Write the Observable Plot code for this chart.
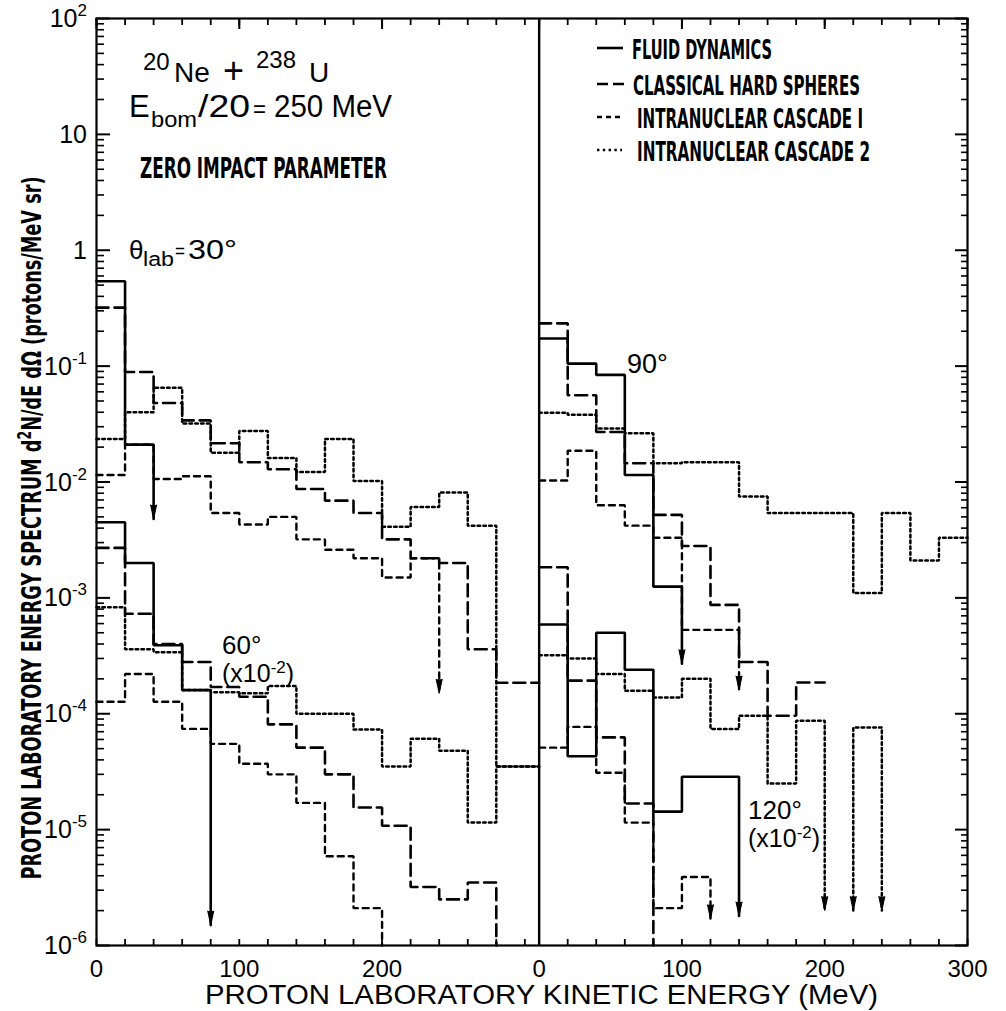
<!DOCTYPE html>
<html>
<head>
<meta charset="utf-8">
<script src="https://cdn.jsdelivr.net/npm/d3@7"></script>
<script src="https://cdn.jsdelivr.net/npm/@observablehq/plot@0.6"></script>
<style>
  html, body { margin: 0; padding: 0; background: #fff; }
  #chart svg { display: block; }
</style>
</head>
<body>
<div id="chart"></div>
<script>
// ---------------- DATA ----------------
const binWidth = 20;                       // MeV per histogram bin
const panelOffset = {left: 0, right: 310}; // right panel drawn after the left one
const panelMax = {left: 310, right: 300};

const modelNames = ["FLUID DYNAMICS", "CLASSICAL HARD SPHERES", "INTRANUCLEAR CASCADE I", "INTRANUCLEAR CASCADE 2"];

// x tick labels (MeV) in each panel, and minor tick step
const xLabelTicks = {left: [0, 100, 200], right: [0, 100, 200, 300]};
const xMinorStep = 20;
// y decades (exponents) labelled on the axis
const yDecades = [-6, -5, -4, -3, -2, -1, 0, 1, 2];

// theta_lab = 30 deg (left panel, upper group)
const fd30   = [0.54, 0.021];
const chs30  = [0.32, 0.089, 0.048, 0.034, 0.0216, 0.0148, 0.0129, 0.0087, 0.0069, 0.0054, 0.0032, 0.0022, 0.0020, 3.6e-4, 1.85e-4];
const inc1_30 = [0.0115, 0.021, 0.0106, 0.0112, 0.0054, 0.0043, 0.0050, 0.0032, 0.0026, 0.0022, 0.0015, 0.0022];
const inc2_30 = [0.0235, 0.040, 0.065, 0.032, 0.0179, 0.0276, 0.0161, 0.0122, 0.0235, 0.0102, 0.0041, 0.0061, 0.0081, 0.0042, 3.5e-5];

// theta_lab = 60 deg (x 10^-2, left panel, lower group)
const fd60   = [4.5e-3, 2.0e-3, 3.9e-4, 1.6e-4];
const chs60  = [2.7e-3, 7.3e-4, 4.0e-4, 2.8e-4, 1.7e-4, 1.4e-4, 8.1e-5, 5.1e-5, 3.0e-5, 1.55e-5, 1.08e-5, 3.2e-6, 2.5e-6, 3.5e-6];
const inc1_60 = [1.27e-4, 2.2e-4, 1.27e-4, 7.4e-5, 5.5e-5, 3.7e-5, 3.0e-5, 1.7e-5, 5.9e-6, 2.1e-6];
const inc2_60 = [8.3e-4, 3.6e-4, 3.4e-4, 1.6e-4, 1.53e-4, 1.5e-4, 1.74e-4, 1.0e-4, 1.0e-4, 7.3e-5, 3.5e-5, 6.1e-5, 4.8e-5, 1.15e-5, 3.5e-5];

// theta_lab = 90 deg (right panel, upper group)
const fd90   = [0.173, 0.105, 0.084, 0.0115, 1.25e-3];
const chs90  = [0.234, 0.056, 0.027, 0.0145, 0.0052, 0.0028, 8.7e-4, 2.8e-4, 9.6e-5, 1.86e-4];
const inc1_90 = [0.0103, 0.0186, 0.0063, 0.0042, 0.0033, 5.3e-4, 5.3e-4];
const inc2_90 = [0.0395, 0.038, 0.029, 0.0263, 0.0145, 0.0148, 0.0148, 0.0075, 0.0054, 0.0054, 0.0054, 0.0011, 0.0054, 0.0021, 0.0033];

// theta_lab = 120 deg (x 10^-2, right panel, lower group)
const fd120   = [5.9e-4, 4.3e-5, 5.0e-4, 2.4e-4, 1.43e-5, 2.86e-5, 2.86e-5];
const chs120  = [1.84e-3, 1.93e-4, 6.25e-5, 1.68e-5];
const inc1_120 = [5.1e-5, 7.7e-5, 3.1e-5, 1.15e-5, 2.1e-6, 3.9e-6];
const inc2_120 = [3.2e-4, 3.0e-4, 2.2e-4, 1.58e-4, 1.38e-4, 2.0e-4, 7.4e-5, 9.6e-5, 2.5e-5, 8.7e-5, null, 7.6e-5];

const seriesList = [
  {id: "fd30", panel: "left", model: 0, values: fd30},
  {id: "chs30", panel: "left", model: 1, values: chs30},
  {id: "inc1_30", panel: "left", model: 2, values: inc1_30},
  {id: "inc2_30", panel: "left", model: 3, values: inc2_30},
  {id: "fd60", panel: "left", model: 0, values: fd60},
  {id: "chs60", panel: "left", model: 1, values: chs60},
  {id: "inc1_60", panel: "left", model: 2, values: inc1_60},
  {id: "inc2_60", panel: "left", model: 3, values: inc2_60},
  {id: "fd90", panel: "right", model: 0, values: fd90},
  {id: "chs90", panel: "right", model: 1, values: chs90},
  {id: "inc1_90", panel: "right", model: 2, values: inc1_90},
  {id: "inc2_90", panel: "right", model: 3, values: inc2_90},
  {id: "fd120", panel: "right", model: 0, values: fd120},
  {id: "chs120", panel: "right", model: 1, values: chs120},
  {id: "inc1_120", panel: "right", model: 2, values: inc1_120},
  {id: "inc2_120", panel: "right", model: 3, values: inc2_120}
];

// arrows (value falls to zero): [series, energy MeV, arrow tip value]
const arrowTips = [
  ["fd30", 40, 4.8e-3], ["inc1_30", 240, 1.5e-4], ["fd60", 80, 1.5e-6],
  ["fd90", 100, 2.7e-4], ["inc1_90", 140, 1.6e-4], ["fd120", 140, 1.8e-6], ["inc1_120", 120, 1.7e-6],
  ["inc2_120", 200, 2.0e-6], ["inc2_120", 220, 2.0e-6], ["inc2_120", 240, 2.0e-6]
];
// plain drops to the bottom axis: [series, energy MeV]
const drops = [["chs60", 280], ["inc1_60", 200], ["chs120", 80]];

// ---------------- BUILD STEP POINTS ----------------
const yBottom = 1e-6, yTop = 100;
const panelOf = Object.fromEntries(seriesList.map(s => [s.id, s.panel]));
const points = [];
for (const s of seriesList) {
  const off = panelOffset[s.panel];
  const tips = new Map(arrowTips.filter(d => d[0] === s.id).map(d => [d[1], d[2]]));
  const dropSet = new Set(drops.filter(d => d[0] === s.id).map(d => d[1]));
  const push = (e, y) => points.push({id: s.id, model: s.model, x: off + e, y});
  const n = s.values.length;
  for (let i = 0; i < n; i++) {
    const v = s.values[i];
    if (v == null) { points.push({id: s.id, model: s.model, x: NaN, y: NaN}); continue; }
    const lo = i * binWidth;
    let hi = (i + 1) * binWidth;
    if (hi >= 300) hi = panelMax[s.panel];
    if (i > 0 && s.values[i - 1] == null && tips.has(lo)) push(lo, tips.get(lo));
    push(lo, v);
    push(hi, v);
    const lastRun = i === n - 1 || s.values[i + 1] == null;
    if (lastRun) {
      if (tips.has(hi)) push(hi, tips.get(hi));
      else if (dropSet.has(hi)) push(hi, yBottom);
    }
  }
}

// ---------------- TICKS ----------------
const majorY = yDecades.map(e => 10 ** e);
const minorY = yDecades.slice(0, -1).flatMap(e => d3.range(2, 10).map(k => k * 10 ** e));
const xMinor = [...d3.range(0, 301, xMinorStep), ...d3.range(0, 301, xMinorStep).map(e => e + panelOffset.right)];
const xMajorAll = [...xLabelTicks.left, ...xLabelTicks.right.map(e => e + panelOffset.right)];

const pLeft = 96, pRight = 967, pTop = 18, pBottom = 945;
const innerW = pRight - pLeft, innerH = pBottom - pTop;

const dashes = [null, "12,6", "6,5", "2.6,3.2"];
const widths = [2.6, 2.6, 2.4, 2.5];
const hasSpike = typeof Plot.spike === "function";

const chart = Plot.plot({
  width: 1006, height: 1011,
  marginTop: pTop, marginBottom: 1011 - pBottom, marginLeft: pLeft, marginRight: 1006 - pRight,
  style: {fontFamily: "'Liberation Sans', Arial, sans-serif", fontSize: "24px", color: "black", background: "white", overflow: "visible"},
  x: {type: "linear", domain: [0, panelOffset.right + panelMax.right],
      ticks: xMajorAll, tickFormat: d => d >= panelOffset.right ? d - panelOffset.right : d,
      tickSize: 0, tickPadding: 14, label: null},
  y: {type: "log", domain: [yBottom, yTop], axis: null},
  marks: [
    Plot.frame({stroke: "black", strokeWidth: 2.2}),
    Plot.ruleX([panelOffset.right], {stroke: "black", strokeWidth: 2.4}),
    // inside ticks
    Plot.ruleY(majorY, {insetRight: innerW - 14, strokeWidth: 2}),
    Plot.ruleY(minorY, {insetRight: innerW - 8, strokeWidth: 1.6}),
    Plot.ruleY(majorY, {insetLeft: innerW - 12, strokeWidth: 2}),
    Plot.ruleY(minorY, {insetLeft: innerW - 6, strokeWidth: 1.6}),
    Plot.ruleX(xMinor, {insetBottom: innerH - 7, strokeWidth: 1.8}),
    Plot.ruleX(xMajorAll, {insetBottom: innerH - 11, strokeWidth: 2}),
    Plot.ruleX(xMinor, {insetTop: innerH - 6, strokeWidth: 1.8}),
    // histograms
    ...[0, 1, 2, 3].map(m => Plot.line(points.filter(p => p.model === m), {
      x: "x", y: "y", z: "id", stroke: "black", strokeWidth: widths[m],
      strokeDasharray: dashes[m], strokeLinejoin: "miter", curve: "linear"
    })),
    // arrow heads
    Plot.vector(arrowTips, {
      x: d => panelOffset[panelOf[d[0]]] + d[1], y: d => d[2],
      rotate: 180, length: 14, anchor: "end", shape: hasSpike ? "spike" : "arrow", r: 3,
      stroke: "black", fill: "black", strokeWidth: 1
    })
  ]
});
document.getElementById("chart").appendChild(chart);

// ---------------- TEXT ----------------
const svg = d3.select(chart);
const ys = chart.scale("y");
const geo = "'Liberation Sans', Arial, sans-serif";
const cond = "'Liberation Sans Narrow', 'DejaVu Sans Condensed', 'Liberation Sans', sans-serif";

function txt(x, y, str, size, opt = {}) {
  const t = svg.append("text").attr("x", x).attr("y", y)
    .attr("font-family", opt.family || geo).attr("font-size", size)
    .attr("font-weight", opt.weight || "normal").attr("fill", "black")
    .attr("text-anchor", opt.anchor || "start")
    .text(str);
  if (opt.len) t.attr("textLength", opt.len).attr("lengthAdjust", "spacingAndGlyphs");
  return t;
}

// y tick labels
for (const e of yDecades) {
  const y = ys.apply(10 ** e) + 9;
  const t = svg.append("text").attr("x", 87).attr("y", y).attr("text-anchor", "end")
    .attr("font-family", geo).attr("font-size", 25).attr("fill", "black");
  if (e === 0) t.text("1");
  else if (e === 1) t.text("10");
  else {
    t.append("tspan").text("10");
    t.append("tspan").attr("dy", -11).attr("font-size", 17).text(e < 0 ? "-" + (-e) : String(e));
  }
}

// axis titles
txt(205, 1004, "PROTON LABORATORY KINETIC ENERGY (MeV)", 27, {len: 673});
{
  const t = svg.append("text").attr("transform", "translate(41,528) rotate(-90)")
    .attr("text-anchor", "middle").attr("font-family", cond).attr("font-weight", "bold")
    .attr("font-size", 27).attr("fill", "black")
    .attr("textLength", 703).attr("lengthAdjust", "spacingAndGlyphs");
  t.append("tspan").text("PROTON LABORATORY ENERGY SPECTRUM d");
  t.append("tspan").attr("dy", -10).attr("font-size", 19).text("2");
  t.append("tspan").attr("dy", 10).text("N/dE dΩ (protons/MeV sr)");
}

// reaction header
txt(143, 70, "20", 24);
txt(174, 82, "Ne", 28);
txt(223, 83, "+", 36);
txt(256, 68, "238", 24);
txt(309, 82, "U", 28);
txt(129, 117, "E", 31);
txt(151, 127, "bom", 22, {len: 46});
txt(198, 117, "/20", 31, {len: 52});
txt(253, 117, "=", 24, {len: 13});
txt(274, 117, "250 MeV", 31, {len: 118});
txt(140, 178, "ZERO IMPACT PARAMETER", 29, {family: cond, weight: "bold", len: 247});
txt(129, 259, "θ", 26);
txt(143, 266, "lab", 20, {len: 31});
txt(175, 258, "=", 20, {len: 10});
txt(188, 259, "30°", 27, {len: 49});

// angle labels
function scaledLabel(x, y, deg) {
  txt(x, y, deg, 26);
  const t = svg.append("text").attr("x", x).attr("y", y + 28).attr("text-anchor", "start")
    .attr("font-family", geo).attr("font-size", 25).attr("fill", "black");
  t.append("tspan").text("(x10");
  t.append("tspan").attr("dy", -9).attr("font-size", 17).text("-2");
  t.append("tspan").attr("dy", 9).text(")");
}
scaledLabel(222, 654, "60°");
txt(627, 373, "90°", 27);
scaledLabel(748, 819, "120°");

// legend
const legendRows = [
  {y: 48, text: modelNames[0], tx: 632, len: 140},
  {y: 84, text: modelNames[1], tx: 633, len: 227},
  {y: 117, text: modelNames[2], tx: 637, len: 226},
  {y: 150, text: modelNames[3], tx: 637, len: 233}
];
const sampleDash = [null, "11,5", "5,4", "2.4,3.4"];
const sampleEnd = [623, 625, 620, 622];
legendRows.forEach((r, i) => {
  const l = svg.append("line").attr("x1", 597).attr("x2", sampleEnd[i]).attr("y1", r.y).attr("y2", r.y)
    .attr("stroke", "black").attr("stroke-width", 2.6);
  if (sampleDash[i]) l.attr("stroke-dasharray", sampleDash[i]);
  txt(r.tx, r.y + 11, r.text, 26, {family: cond, weight: "bold", len: r.len});
});
</script>
</body>
</html>
